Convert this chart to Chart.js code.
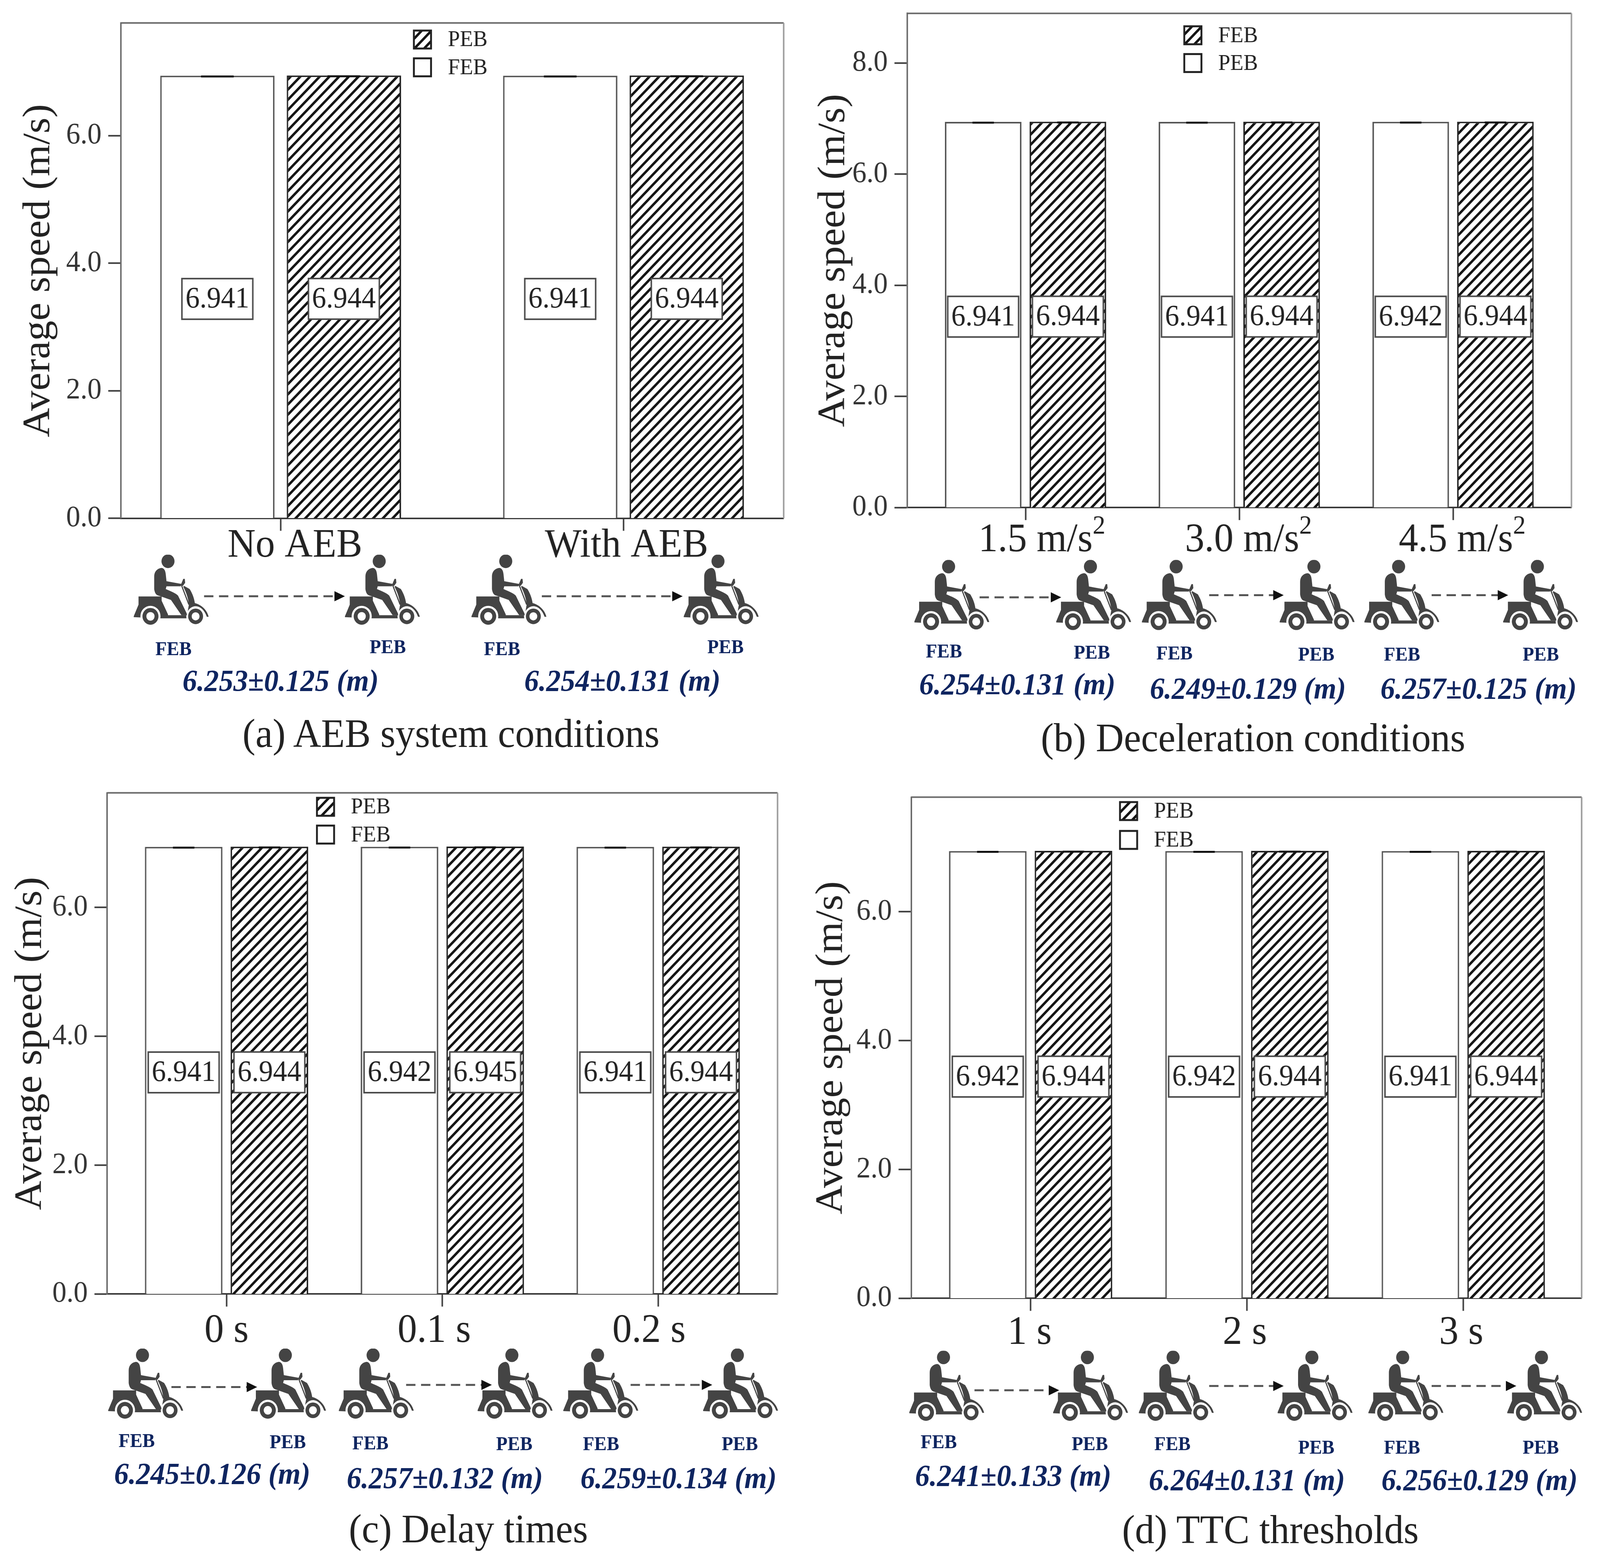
<!DOCTYPE html>
<html>
<head>
<meta charset="utf-8">
<script src="https://cdn.jsdelivr.net/npm/chart.js@4/dist/chart.umd.js"></script>
<style>
html, body { margin: 0; padding: 0; background: #fff; overflow: hidden; }
#page { position: relative; width: 4289px; height: 4006px; overflow: hidden; background: #fff; transform-origin: 0 0; }
canvas { position: absolute; }
#lines { position: absolute; left: 0; top: 0; }
.txt { position: absolute; transform: translate(-50%, -50%); white-space: nowrap; font-family: "Liberation Serif", serif; }
.cap { font-size: 104px; color: #222; }
.dist { font-size: 78px; font-weight: bold; font-style: italic; color: #0f2560; }
.tag { font-size: 50px; font-weight: bold; color: #0f2560; }
</style>
</head>
<body>
<div id="page">
<svg id="lines" width="4289" height="4006" xmlns="http://www.w3.org/2000/svg">
  <defs>
    <symbol id="scooter" viewBox="0 0 202 181">
      <g fill="#444">
        <path d="M13 107 L75 107 L75 118 L92 153 L92 155 L142 155 L142 163 L71 163 L0 160 L0 158 L13 128 Z"/>
        <path d="M135 80 L150 88 C158 100 162 112 164 124 C180 128 196 140 201 159 L196 159 C190 142 178 132 166 132 C156 132 148 138 144 150 L148 128 C146 110 140 95 133 82 Z"/>
      </g>
      <circle cx="45" cy="158" r="27" fill="#fff"/>
      <circle cx="166" cy="158" r="25" fill="#fff"/>
      <g fill="#444">
        <circle cx="92" cy="17" r="17.5"/>
        <path d="M74 34 C62 36 55 44 55 56 L55 88 C56 96 59 102 64 104 L100 116 L128 155 L143 155 L142 150 L119 105 C112 98 100 94 86 88 L88 81 L126 81 L128 75 L88 68 L86 50 C85 40 81 34 74 34 Z"/>
        <path d="M126 78 L133 62 L137 62 L138 72 L132 80 Z"/>
        <circle cx="45" cy="158" r="21.5"/>
        <circle cx="166" cy="158" r="20"/>
      </g>
      <path d="M128 78 L148 128" stroke="#444" stroke-width="3"/>
      <circle cx="45" cy="158" r="11" fill="#fff"/>
      <circle cx="166" cy="158" r="10.5" fill="#fff"/>
    </symbol>
  </defs>
</svg>
</div>
<script>
// reference was measured on a 1568 px wide view, S brings it to page pixels
const S = 4289 / 1568;

const yTicksA = [0, 2, 4, 6];
const yTicksB = [0, 2, 4, 6, 8];
const yTicksC = [0, 2, 4, 6];
const yTicksD = [0, 2, 4, 6];

const categoriesA = ["No AEB", "With AEB"];
const categoriesB = ["1.5 m/s²", "3.0 m/s²", "4.5 m/s²"];
const categoriesC = ["0 s", "0.1 s", "0.2 s"];
const categoriesD = ["1 s", "2 s", "3 s"];

const plainA = [6.941, 6.941];
const hatchA = [6.944, 6.944];
const plainB = [6.941, 6.941, 6.942];
const hatchB = [6.944, 6.944, 6.944];
const plainC = [6.941, 6.942, 6.941];
const hatchC = [6.944, 6.945, 6.944];
const plainD = [6.942, 6.942, 6.941];
const hatchD = [6.944, 6.944, 6.944];

const panels = [
  { id: "a", plain: plainA, hatch: hatchA, cats: categoriesA, yTicks: yTicksA, plainName: "FEB", hatchName: "PEB",
    box: [118.5, 768, 21.5, 485], yUnit: 59.67, firstTick: 275, tickGap: 336, barW: 112, barGap: 124, cap: 32,
    labelShift: [14, 3], labelY: 508, titleX: 38, legend: [414, 37, 63] },
  { id: "b", plain: plainB, hatch: hatchB, cats: categoriesB, yTicks: yTicksB, plainName: "PEB", hatchName: "FEB",
    box: [889, 1540, 12.5, 475], yUnit: 52, firstTick: 1005, tickGap: 209.5, barW: 75, barGap: 83, cap: 21,
    labelShift: [16, 9, 9], labelY: 503, titleX: 817, legend: [1169, 33, 59] },
  { id: "c", plain: plainC, hatch: hatchC, cats: categoriesC, yTicks: yTicksC, plainName: "FEB", hatchName: "PEB",
    box: [105, 762, 742, 1211], yUnit: 60.3, firstTick: 222, tickGap: 211.5, barW: 76, barGap: 84, cap: 21,
    labelShift: [0, -8, -9], labelY: 1243, titleX: 30, legend: [319, 755, 781] },
  { id: "d", plain: plainD, hatch: hatchD, cats: categoriesD, yTicks: yTicksD, plainName: "FEB", hatchName: "PEB",
    box: [893, 1550, 746, 1215], yUnit: 60.3, firstTick: 1010, tickGap: 212, barW: 76, barGap: 84, cap: 21,
    labelShift: [-1, -2, -2], labelY: 1245, titleX: 815, legend: [1106, 759, 786] }
];

// text and scooter sketches around the plots, x and y in the 1568 view
const captions = [
  ["(a) AEB system conditions", 442, 686],
  ["(b) Deceleration conditions", 1228, 690],
  ["(c) Delay times", 459, 1430],
  ["(d) TTC thresholds", 1245, 1431]
];
const distances = [
  ["6.253±0.125 (m)", 275, 637], ["6.254±0.131 (m)", 610, 637],
  ["6.254±0.131 (m)", 997, 640], ["6.249±0.129 (m)", 1223, 644], ["6.257±0.125 (m)", 1449, 644],
  ["6.245±0.126 (m)", 208, 1379], ["6.257±0.132 (m)", 436, 1383], ["6.259±0.134 (m)", 665, 1383],
  ["6.241±0.133 (m)", 993, 1381], ["6.264±0.131 (m)", 1222, 1385], ["6.256±0.129 (m)", 1450, 1385]
];
const tags = [
  ["FEB", 170, 607], ["PEB", 380, 605], ["FEB", 492, 607], ["PEB", 711, 605],
  ["FEB", 925, 609], ["PEB", 1070, 610], ["FEB", 1151, 611], ["PEB", 1290, 612], ["FEB", 1374, 612], ["PEB", 1510, 612],
  ["FEB", 134, 1348], ["PEB", 282, 1349], ["FEB", 363, 1350], ["PEB", 504, 1351], ["FEB", 589, 1351], ["PEB", 725, 1351],
  ["FEB", 920, 1349], ["PEB", 1068, 1351], ["FEB", 1149, 1351], ["PEB", 1290, 1354], ["FEB", 1374, 1354], ["PEB", 1510, 1354]
];
const scooters = [
  [131, 519], [338, 519], [462, 519], [670, 519],
  [896, 524], [1035, 524], [1119, 524], [1254, 524], [1337, 524], [1473, 524],
  [106, 1262], [246, 1262], [332, 1262], [468, 1262], [552, 1262], [689, 1262],
  [891, 1264], [1032, 1264], [1116, 1264], [1252, 1264], [1341, 1264], [1477, 1264]
];
const arrows = [
  [200, 338, 558], [531, 669, 558],
  [960, 1040, 559], [1185, 1258, 557], [1403, 1478, 557],
  [168, 252, 1298], [398, 482, 1296], [618, 698, 1296],
  [955, 1038, 1301], [1185, 1258, 1297], [1403, 1486, 1297]
];

const INK = "#3a3a3a";
const FRAME = "#6a6a6a";
const SERIF = "'Liberation Serif', serif";

function makeHatch() {
  let p = 26;
  let tile = document.createElement("canvas");
  tile.width = p;
  tile.height = p;
  let c = tile.getContext("2d");
  c.fillStyle = "#fff";
  c.fillRect(0, 0, p, p);
  c.strokeStyle = "#141414";
  c.lineWidth = 6.5;
  c.beginPath();
  c.moveTo(0, p); c.lineTo(p, 0);
  c.moveTo(-p, p); c.lineTo(p, -p);
  c.moveTo(0, 2 * p); c.lineTo(2 * p, 0);
  c.stroke();
  return c.createPattern(tile, "repeat");
}

// ² is drawn as a real raised 2, the glyph is too small next to the reference
function drawCategory(ctx, name, x, baseline) {
  let sup = name.endsWith("²");
  let base = sup ? name.slice(0, -1) : name;
  ctx.fillStyle = "#222";
  ctx.textAlign = "left";
  ctx.textBaseline = "alphabetic";
  ctx.font = "104px " + SERIF;
  let w = ctx.measureText(base).width;
  ctx.font = "68px " + SERIF;
  let supW = sup ? ctx.measureText("2").width : 0;
  let start = x - (w + supW) / 2;
  ctx.font = "104px " + SERIF;
  ctx.fillText(base, start, baseline);
  if (sup) {
    ctx.font = "68px " + SERIF;
    ctx.fillText("2", start + w, baseline - 45);
  }
}

// frame, whisker caps, boxed values, legend and category names
const extras = {
  id: "extras",
  afterDatasetsDraw(chart) {
    let p = chart.config.options.panel;
    let ctx = chart.ctx;
    let area = chart.chartArea;
    let yScale = chart.scales.y;
    ctx.save();

    // top and right sides of the frame
    ctx.strokeStyle = FRAME;
    ctx.lineWidth = 4;
    ctx.beginPath();
    ctx.moveTo(area.left, area.top);
    ctx.lineTo(area.right, area.top);
    ctx.stroke();
    ctx.strokeStyle = "#9a9a9a";
    ctx.beginPath();
    ctx.moveTo(area.right, area.top);
    ctx.lineTo(area.right, area.bottom);
    ctx.stroke();

    chart.data.datasets.forEach((ds, di) => {
      chart.getDatasetMeta(di).data.forEach((bar, i) => {
        let v = ds.data[i].y;
        let top = yScale.getPixelForValue(v);
        let mid = yScale.getPixelForValue(v / 2) + 5;

        ctx.strokeStyle = "#111";
        ctx.lineWidth = 5;
        ctx.beginPath();
        ctx.moveTo(bar.x - p.cap * S / 2, top + 2);
        ctx.lineTo(bar.x + p.cap * S / 2, top + 2);
        ctx.stroke();

        let w = 190, h = 104;
        ctx.fillStyle = "#fff";
        ctx.fillRect(bar.x - w / 2, mid - h / 2, w, h);
        ctx.strokeStyle = "#4a4a4a";
        ctx.lineWidth = 4;
        ctx.strokeRect(bar.x - w / 2, mid - h / 2, w, h);
        ctx.fillStyle = "#222";
        ctx.font = "76px " + SERIF;
        ctx.textAlign = "center";
        ctx.textBaseline = "middle";
        ctx.fillText(v.toFixed(3), bar.x, mid + 2);
      });
    });

    // legend lists the hatched series first
    let left = chart.canvas.offsetLeft;
    let top = chart.canvas.offsetTop;
    let order = [chart.data.datasets[1], chart.data.datasets[0]];
    order.forEach((ds, i) => {
      let x = p.legend[0] * S - left;
      let y = p.legend[i + 1] * S - top;
      ctx.fillStyle = ds.backgroundColor;
      ctx.fillRect(x - 23, y - 23, 46, 46);
      ctx.strokeStyle = "#222";
      ctx.lineWidth = 5;
      ctx.strokeRect(x - 23, y - 23, 46, 46);
      ctx.fillStyle = "#222";
      ctx.font = "58px " + SERIF;
      ctx.textAlign = "left";
      ctx.textBaseline = "middle";
      ctx.fillText(ds.label, x + 68, y + 2);
    });

    // the category names sit a little off their ticks in the reference
    let xScale = chart.scales.x;
    p.cats.forEach((name, i) => {
      drawCategory(ctx, name, xScale.getPixelForValue(i) + p.labelShift[i] * S, p.labelY * S - top + 35);
    });
    ctx.restore();
  }
};

function drawPanel(p) {
  let [l, r, t, b] = p.box;
  let canvasLeft = Math.round(p.titleX * S - 66);
  let canvasTop = Math.round(t * S - 6);
  let canvasRight = Math.round(r * S + 6);
  let canvasBottom = Math.round((b + 70) * S);
  let plotLeft = l * S, plotRight = r * S, plotTop = t * S, plotBottom = b * S;

  let canvas = document.createElement("canvas");
  canvas.width = canvasRight - canvasLeft;
  canvas.height = canvasBottom - canvasTop;
  canvas.style.left = canvasLeft + "px";
  canvas.style.top = canvasTop + "px";
  canvas.style.width = canvas.width + "px";
  canvas.style.height = canvas.height + "px";
  document.getElementById("page").appendChild(canvas);

  let tickX = p.firstTick * S;
  let gap = p.tickGap * S;
  let slot = p.barGap * S;

  new Chart(canvas.getContext("2d"), {
    type: "bar",
    data: {
      datasets: [
        { label: p.plainName, data: p.plain.map((v, i) => ({ x: i, y: v })), backgroundColor: "#fff", borderColor: "#555" },
        { label: p.hatchName, data: p.hatch.map((v, i) => ({ x: i, y: v })), backgroundColor: makeHatch(), borderColor: "#222" }
      ]
    },
    options: {
      panel: p,
      responsive: false,
      animation: false,
      devicePixelRatio: 1,
      categoryPercentage: 2 * slot / gap,
      barPercentage: p.barW / p.barGap,
      layout: { autoPadding: false, padding: { top: plotTop - canvasTop, right: canvasRight - plotRight } },
      elements: { bar: { borderWidth: 4 } },
      plugins: { legend: { display: false }, tooltip: { enabled: false } },
      scales: {
        x: {
          type: "linear",
          z: 1, // keep the axis line on top of the bar bottoms
          bounds: "data",
          offset: false,
          min: (plotLeft - tickX) / gap,
          max: (plotRight - tickX) / gap,
          afterBuildTicks: s => { s.ticks = p.cats.map((_, i) => ({ value: i })); },
          afterFit: s => { s.height = canvasBottom - plotBottom; },
          ticks: { display: false, autoSkip: false },
          border: { color: INK, width: 4 },
          grid: { offset: false, drawOnChartArea: false, tickLength: 32, tickWidth: 4, tickColor: INK }
        },
        y: {
          bounds: "data",
          min: 0,
          max: (b - t) / p.yUnit,
          afterBuildTicks: s => { s.ticks = p.yTicks.map(v => ({ value: v })); },
          afterFit: s => {
            s.width = plotLeft - canvasLeft;
            s.paddingTop = 0;
            s.paddingBottom = 0;
          },
          ticks: { color: "#333", padding: 18, font: { family: SERIF, size: 76 }, callback: v => v.toFixed(1) },
          border: { color: FRAME, width: 4 },
          grid: { drawOnChartArea: false, tickLength: 34, tickWidth: 4, tickColor: INK },
          title: { display: true, text: "Average speed (m/s)", color: "#222", font: { family: SERIF, size: 104 } }
        }
      }
    },
    plugins: [extras]
  });
}

function addText(list, cls) {
  list.forEach(item => {
    let d = document.createElement("div");
    d.className = "txt " + cls;
    d.textContent = item[0];
    d.style.left = item[1] * S + "px";
    d.style.top = item[2] * S + "px";
    document.getElementById("page").appendChild(d);
  });
}

function addSketches() {
  let svg = document.getElementById("lines");
  let html = "";
  scooters.forEach(s => {
    html += '<use href="#scooter" x="' + s[0] * S + '" y="' + s[1] * S + '" width="202" height="181"/>';
  });
  arrows.forEach(a => {
    let x1 = a[0] * S, x2 = a[1] * S, y = a[2] * S;
    html += '<line x1="' + x1 + '" y1="' + y + '" x2="' + (x2 - 26) + '" y2="' + y + '" stroke="#555" stroke-width="5" stroke-dasharray="25 15"/>';
    html += '<polygon points="' + (x2 - 28) + ',' + (y - 13) + ' ' + x2 + ',' + y + ' ' + (x2 - 28) + ',' + (y + 13) + '" fill="#111"/>';
  });
  svg.insertAdjacentHTML("beforeend", html);
}

window.onload = function () {
  // the browser may cap the window below 4289 wide, keep the whole page in view
  let page = document.getElementById("page");
  page.style.transform = "scale(" + window.innerWidth / 4289 + "," + window.innerHeight / 4006 + ")";
  addSketches();
  panels.forEach(drawPanel);
  addText(captions, "cap");
  addText(distances, "dist");
  addText(tags, "tag");
};
</script>
</body>
</html>
